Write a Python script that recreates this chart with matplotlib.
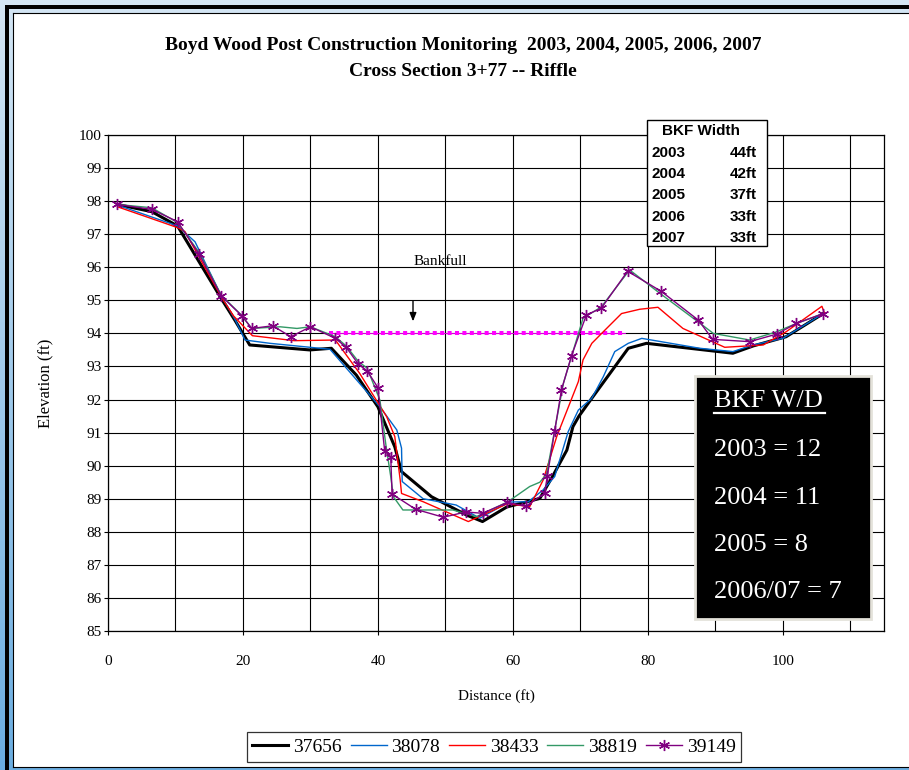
import numpy as np
import matplotlib
matplotlib.use("Agg")
import matplotlib.pyplot as plt
from matplotlib.patches import Rectangle

# ---- survey data: distance (ft) and elevation (ft) per survey date ----
x_37656 = [1.4, 6.5, 10.3, 16.8, 18.8, 21.0, 29.9, 33.1, 36.8, 40.0, 42.5, 43.5, 47.95,
           53.1, 55.5, 59.1, 64.0, 66.0, 68.0, 68.9, 69.8, 71.7, 77.1, 79.8, 92.6, 95.6,
           100.5, 106.0]
y_37656 = [97.9, 97.68, 97.25, 95.05, 94.4, 93.65, 93.5, 93.55, 92.74, 91.78, 90.57, 89.82,
           89.06, 88.51, 88.31, 88.75, 89.01, 89.72, 90.47, 91.18, 91.5, 92.04, 93.55, 93.7,
           93.4, 93.62, 93.9, 94.6]

x_38078 = [1.4, 10.3, 12.9, 16.8, 18.8, 20.3, 24.0, 32.9, 40.3, 42.8, 43.5, 43.6, 46.7,
           51.6, 55.1, 59.4, 62.3, 64.5, 66.2, 68.2, 69.7, 71.7, 73.4, 75.1, 77.1, 79.1,
           87.7, 92.6, 95.6, 100.0, 106.0]
y_38078 = [97.88, 97.25, 96.77, 95.13, 94.43, 93.8, 93.7, 93.52, 91.78, 91.08, 90.53, 89.52,
           89.0, 88.81, 88.41, 88.9, 88.91, 89.27, 89.67, 91.03, 91.68, 92.04, 92.69, 93.45,
           93.7, 93.85, 93.55, 93.45, 93.65, 93.85, 94.6]

x_38433 = [1.4, 10.3, 11.4, 16.8, 18.6, 21.4, 27.6, 33.7, 37.3, 41.3, 42.5, 43.3, 43.5,
           46.7, 53.4, 59.2, 62.5, 64.5, 66.5, 69.7, 70.4, 71.7, 73.4, 76.1, 78.8, 81.5,
           85.2, 91.4, 97.1, 100.5, 105.8, 106.2]
y_38433 = [97.83, 97.2, 97.08, 95.1, 94.53, 93.93, 93.78, 93.8, 92.79, 91.48, 90.88, 89.57,
           89.16, 88.91, 88.31, 88.85, 88.76, 89.57, 90.88, 92.54, 93.2, 93.7, 94.05, 94.6,
           94.73, 94.79, 94.15, 93.58, 93.65, 94.05, 94.82, 94.6]

x_38819 = [1.4, 6.5, 10.3, 13.5, 16.8, 19.8, 21.3, 25.5, 28.0, 30.0, 33.7, 35.3, 37.1,
           38.4, 40.3, 41.2, 41.9, 42.3, 43.7, 51.1, 54.6, 59.2, 62.5, 64.0, 65.0, 66.2,
           67.5, 70.4, 73.1, 77.3, 81.8, 88.1, 89.7, 95.1, 99.1, 102.0, 106.0]
y_38819 = [97.9, 97.8, 97.35, 96.45, 95.15, 94.55, 94.15, 94.2, 94.15, 94.2, 93.9, 93.62,
           93.15, 92.95, 91.98, 90.6, 89.67, 89.06, 88.66, 88.66, 88.46, 88.9, 89.37, 89.5,
           89.75, 91.08, 92.5, 94.46, 94.8, 95.92, 95.21, 94.25, 94.0, 93.8, 94.05, 94.3, 94.6]

x_39149 = [1.4, 6.5, 10.3, 13.5, 16.8, 19.8, 21.3, 24.4, 27.1, 30.0, 33.7, 35.3, 37.1,
           38.4, 40.0, 41.0, 41.9, 42.1, 45.6, 49.7, 53.0, 55.5, 59.2, 61.9, 64.7, 65.1,
           66.2, 67.2, 68.7, 70.9, 73.1, 77.0, 82.0, 87.5, 89.6, 95.1, 99.1, 102.0, 106.0]
y_39149 = [97.9, 97.75, 97.38, 96.4, 95.13, 94.54, 94.15, 94.23, 93.9, 94.2, 93.85, 93.58,
           93.07, 92.87, 92.36, 90.45, 90.27, 89.14, 88.68, 88.44, 88.6, 88.56, 88.89, 88.77,
           89.16, 89.68, 91.06, 92.29, 93.33, 94.56, 94.76, 95.88, 95.27, 94.4, 93.82, 93.75,
           93.98, 94.3, 94.6]

# bankfull stage
bankfull_x = [32.8, 76.6]
bankfull_elev = 94.0

# summary tables
bkf_years = ["2003", "2004", "2005", "2006", "2007"]
bkf_widths = ["44ft", "42ft", "37ft", "33ft", "33ft"]
wd_lines = ["2003 = 12", "2004 = 11", "2005 = 8", "2006/07 = 7"]

x_ticks = [0, 20, 40, 60, 80, 100]
y_ticks = list(range(85, 101))

SERIF = ["Liberation Serif", "DejaVu Serif"]
SANS = ["Liberation Sans", "DejaVu Sans"]

W, H = 909, 770
fig = plt.figure(figsize=(W / 100, H / 100), dpi=100)

# ---- background frame (pixel coordinates, origin top-left) ----
bg = fig.add_axes([0, 0, 1, 1], zorder=-10)
bg.axis("off")
grad = np.linspace(0, 1, 256).reshape(-1, 1)
top_c = np.array([0.83, 0.90, 0.955])
bot_c = np.array([0.42, 0.68, 0.88])
img = top_c[None, None, :] * (1 - grad[:, :, None]) + bot_c[None, None, :] * grad[:, :, None]
bg.imshow(img, extent=[0, W, H, 0], aspect="auto")
bg.add_patch(Rectangle((13, 13), W - 13, 754, facecolor="white", edgecolor="none"))
bg.add_patch(Rectangle((5, 5), W - 5, 4, facecolor="black", edgecolor="none"))
bg.add_patch(Rectangle((5, 5), 4, H - 5, facecolor="black", edgecolor="none"))
bg.plot([12.5, 12.5], [13, 767], color="black", lw=0.8)
bg.plot([12.5, W], [13, 13], color="black", lw=0.8)
bg.plot([12.5, W], [767, 767], color="black", lw=0.8)
bg.set_xlim(0, W)
bg.set_ylim(H, 0)

# ---- main plot ----
ax = fig.add_axes([108 / W, (H - 631) / H, 776 / W, 496 / H])
ax.set_xlim(0, 115)
ax.set_ylim(85, 100)
ax.set_xticks(x_ticks)
ax.set_xticks(list(range(10, 115, 20)), minor=True)
ax.set_yticks(y_ticks)
ax.grid(True, which="both", color="black", lw=0.8)
ax.set_axisbelow(True)
ax.tick_params(axis="x", which="major", direction="out", length=3, pad=14.5)
ax.tick_params(axis="x", which="minor", length=0)
ax.tick_params(axis="y", direction="out", length=3, pad=1.5)
for lab in ax.get_xticklabels() + ax.get_yticklabels():
    lab.set_fontfamily(SERIF)
    lab.set_fontsize(11)
for s in ax.spines.values():
    s.set_color("black")
    s.set_linewidth(0.9)

ax.set_xlabel("Distance (ft)", family=SERIF, fontsize=11)
ax.set_ylabel("Elevation (ft)", family=SERIF, fontsize=12)
ax.xaxis.set_label_coords(0.5, -(689 - 631) / 496)
ax.yaxis.set_label_coords((53 - 108) / 776, 0.5)

# bankfull line: thin line plus square dots
ax.plot(bankfull_x, [bankfull_elev] * 2, color="#ff00ff", lw=0.6, zorder=2)
ax.plot(bankfull_x, [bankfull_elev] * 2, color="#ff00ff", lw=2.9,
        linestyle=(0, (1, 0.84)), dash_capstyle="butt", zorder=2)

ax.plot(x_37656, y_37656, color="black", lw=2.2, label="37656", zorder=3)
ax.plot(x_38078, y_38078, color="#0066cc", lw=1.0, label="38078", zorder=3)
ax.plot(x_38433, y_38433, color="#ff0000", lw=1.0, label="38433", zorder=3)
ax.plot(x_38819, y_38819, color="#339966", lw=1.0, label="38819", zorder=3)
ax.plot(x_39149, y_39149, color="#800080", lw=1.0, marker=(6, 2, 0), markersize=8,
        markeredgewidth=1.0, label="39149", zorder=4)

ax.text(49.3, 96.16, "Bankfull", family=SERIF, fontsize=11, ha="center", va="center")
ax.annotate("", xy=(45.2, 94.28), xytext=(45.2, 95.07),
            arrowprops=dict(arrowstyle="-|>,head_length=0.5,head_width=0.2",
                            color="black", lw=1.0))

leg = ax.legend(loc="center", bbox_to_anchor=(494 / W, 1 - 747 / H),
                bbox_transform=fig.transFigure, ncol=5, frameon=True,
                prop={"family": SERIF, "size": 14}, handlelength=1.85,
                handletextpad=0.25, columnspacing=0.45, borderpad=0.3,
                fancybox=False, borderaxespad=0)
leg.get_frame().set_edgecolor("black")
leg.get_frame().set_linewidth(0.9)

# ---- titles ----
fig.text(463 / W, 1 - 45 / H,
         "Boyd Wood Post Construction Monitoring  2003, 2004, 2005, 2006, 2007",
         family=SERIF, fontsize=14, fontweight="bold", ha="center", va="center")
fig.text(463 / W, 1 - 72 / H, "Cross Section 3+77 -- Riffle",
         family=SERIF, fontsize=14, fontweight="bold", ha="center", va="center")

# ---- overlay boxes (pixel coordinates) ----
ov = fig.add_axes([0, 0, 1, 1], zorder=10)
ov.set_xlim(0, W)
ov.set_ylim(H, 0)
ov.axis("off")
ov.patch.set_alpha(0)

ov.add_patch(Rectangle((647, 120), 120, 126, facecolor="white", edgecolor="black", lw=1.0))
ov.text(701, 131, "BKF Width", family=SANS, fontsize=11, fontweight="bold",
        ha="center", va="center")
for i, (yr, wd) in enumerate(zip(bkf_years, bkf_widths)):
    yy = 153 + i * 21.2
    ov.text(652, yy, yr, family=SANS, fontsize=11, fontweight="bold", ha="left", va="center")
    ov.text(757, yy, wd, family=SANS, fontsize=11, fontweight="bold", ha="right", va="center")

ov.add_patch(Rectangle((695, 376), 176, 243, facecolor="black", edgecolor="#e4e2da", lw=2.0))
ov.text(714, 401, "BKF W/D", family=SERIF, fontsize=19, color="white", ha="left", va="center")
ov.plot([714, 825], [413, 413], color="white", lw=1.6)
for i, line in enumerate(wd_lines):
    ov.text(714, 450 + i * 47.5, line, family=SERIF, fontsize=19, color="white",
            ha="left", va="center")

fig.savefig("out.png", dpi=100)
